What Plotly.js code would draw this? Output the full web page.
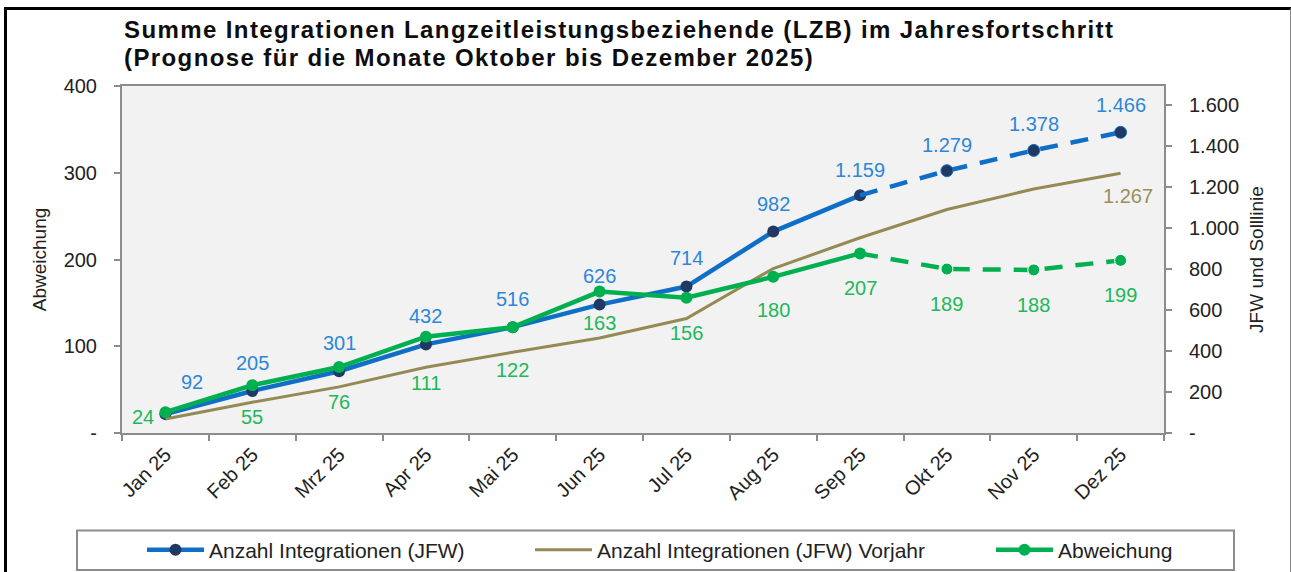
<!DOCTYPE html>
<html><head><meta charset="utf-8">
<script src="https://cdn.plot.ly/plotly-3.0.1.min.js"></script>
<style>
html,body{margin:0;padding:0;background:#fff;}
#wrap{position:relative;width:1291px;height:572px;overflow:hidden;}
#frame{position:absolute;left:4px;top:7px;width:1283px;height:580px;border-top:3px solid #000;border-left:3px solid #000;border-right:1px solid #888;pointer-events:none;}
#chart{position:absolute;left:0;top:0;width:1291px;height:572px;}
</style></head>
<body><div id="wrap"><div id="chart"></div><div id="frame"></div></div>
<script>
const months = ['Jan 25','Feb 25','Mrz 25','Apr 25','Mai 25','Jun 25','Jul 25','Aug 25','Sep 25','Okt 25','Nov 25','Dez 25'];
const jfw = [92,205,301,432,516,626,714,982,1159,1279,1378,1466];
const vorjahr = [68,150,225,321,394,463,558,802,952,1090,1190,1267];
const abweichung = [24,55,76,111,122,163,156,180,207,189,188,199];
const lastActual = 8; // Sep 25, forecast afterwards
const leftTicks = [0,100,200,300,400];
const leftTickText = ['-','100','200','300','400'];
const rightTicks = [0,200,400,600,800,1000,1200,1400,1600];
const rightTickText = ['-','200','400','600','800','1.000','1.200','1.400','1.600'];
const titleLines = ['Summe Integrationen Langzeitleistungsbeziehende (LZB) im Jahresfortschritt','(Prognose für die Monate Oktober bis Dezember 2025)'];

// label placement (pixels), kept apart from the data
const blueLabelDy  = [32,28,28,28,28,29,29,28,25,26,26,27];
const greenLabelDy = [-5,-32,-35,-46,-43,-31,-35,-33,-35,-35,-35,-35];

const FONT = 'Liberation Sans, Arial, sans-serif';
const BLUE = '#0F6FC6', NAVY = '#1F3864', OLIVE = '#948A54', GREEN = '#00B050';
const BLUE_T = '#2E86D8', GREEN_T = '#1DB85A', OLIVE_T = '#9A8F5C';

function fmt(v){ return v >= 1000 ? Math.floor(v/1000) + '.' + String(v%1000).padStart(3,'0') : String(v); }

const actX = months.slice(0, lastActual+1), fcX = months.slice(lastActual);
const DASH = '18px,13px';
const traces = [
  {x: actX, y: jfw.slice(0,lastActual+1), yaxis:'y', name:'Anzahl Integrationen (JFW)', mode:'lines+markers',
   line:{color:BLUE,width:4.5}, marker:{color:NAVY,size:12,opacity:1}, legend:'legend'},
  {x: months, y: vorjahr, yaxis:'y', name:'Anzahl Integrationen (JFW) Vorjahr', mode:'lines',
   line:{color:OLIVE,width:3}, legend:'legend2'},
  {x: actX, y: abweichung.slice(0,lastActual+1), yaxis:'y2', name:'Abweichung', mode:'lines+markers',
   line:{color:GREEN,width:4.5}, marker:{color:GREEN,size:12,opacity:1}, legend:'legend3'},
  {x: fcX, y: jfw.slice(lastActual), yaxis:'y', name:'Anzahl Integrationen (JFW) Prognose', showlegend:false, mode:'lines+markers',
   line:{color:BLUE,width:4.5,dash:DASH}, marker:{color:NAVY,size:[0,12,12,12],opacity:1}},
  {x: fcX, y: abweichung.slice(lastActual), yaxis:'y2', name:'Abweichung Prognose', showlegend:false, mode:'lines+markers',
   line:{color:GREEN,width:4.5,dash:DASH}, marker:{color:GREEN,size:[0,12,12,12],opacity:1}}
];

const annotations = [];
months.forEach((m,i)=>{
  annotations.push({x:m, y:jfw[i], xref:'x', yref:'y', text:fmt(jfw[i]), showarrow:false,
    xshift: i===0 ? 27 : 0, yshift: blueLabelDy[i], font:{family:FONT,size:20,color:BLUE_T}});
  annotations.push({x:m, y:abweichung[i], xref:'x', yref:'y2', text:fmt(abweichung[i]), showarrow:false,
    xshift: i===0 ? -22 : 0, yshift: greenLabelDy[i], font:{family:FONT,size:20,color:GREEN_T}});
});
const L = months.length-1;
annotations.push({x:months[L], y:vorjahr[L], xref:'x', yref:'y', text:fmt(vorjahr[L]), showarrow:false,
  xshift:7, yshift:-23, font:{family:FONT,size:20,color:OLIVE_T}});
// title lines
const PL = 122, PW = 1042, PB = 433, PH = 347;
const px2x = px => (px-PL)/PW, px2y = py => (PB-py)/PH;
titleLines.forEach((t,k)=>{
  annotations.push({xref:'paper', yref:'paper', x:px2x(122), y:px2y(k===0 ? 29.5 : 57), xanchor:'left', yanchor:'middle',
    showarrow:false, text:'<b><span style="letter-spacing:1.4px">'+t+'</span></b>', font:{family:FONT,size:24,color:'#0D0D0D'}});
});

const axisFont = {family:FONT,size:20,color:'#222'};
const legFont = {family:FONT,size:21,color:'#222'};
const legY = px2y(550);
const layout = {
  width:1291, height:572,
  margin:{l:122,r:127,t:86,b:139,autoexpand:false},
  paper_bgcolor:'#fff', plot_bgcolor:'#F2F2F2',
  font:{family:FONT,color:'#222'},
  xaxis:{type:'category', range:[-0.5,11.5], showline:true, linecolor:'#8C8C8C', linewidth:2, mirror:true,
    ticks:'outside', tickson:'boundaries', ticklen:6, tickcolor:'#8C8C8C', tickwidth:2,
    tickangle:-45, tickfont:axisFont, showgrid:false, zeroline:false, fixedrange:true, automargin:false},
  yaxis:{side:'right', range:[0,1692], tickvals:rightTicks, ticktext:rightTickText, showline:true,
    linecolor:'#8C8C8C', linewidth:2, ticks:'outside', ticklen:6, tickcolor:'#8C8C8C', tickwidth:2,
    tickfont:axisFont, showgrid:false, zeroline:false, ticklabelstandoff:13, automargin:false,
    title:{text:'JFW und Solllinie', font:{family:FONT,size:19,color:'#222'}, standoff:12}},
  yaxis2:{side:'left', overlaying:'y', range:[0,400], tickvals:leftTicks, ticktext:leftTickText, showline:true,
    linecolor:'#8C8C8C', linewidth:2, ticks:'outside', ticklen:6, tickcolor:'#8C8C8C', tickwidth:2,
    tickfont:axisFont, showgrid:false, zeroline:false, ticklabelstandoff:13, automargin:false,
    title:{text:'Abweichung', font:{family:FONT,size:19,color:'#222'}, standoff:12}},
  legend:{orientation:'h', x:px2x(142), xanchor:'left', y:legY, yanchor:'middle', font:legFont, itemwidth:57, bgcolor:'rgba(0,0,0,0)'},
  legend2:{orientation:'h', x:px2x(530), xanchor:'left', y:legY, yanchor:'middle', font:legFont, itemwidth:57, bgcolor:'rgba(0,0,0,0)'},
  legend3:{orientation:'h', x:px2x(991), xanchor:'left', y:legY, yanchor:'middle', font:legFont, itemwidth:57, bgcolor:'rgba(0,0,0,0)'},
  shapes:[{type:'rect', xref:'paper', yref:'paper', x0:px2x(77), x1:px2x(1234), y0:px2y(570), y1:px2y(530.5),
    line:{color:'#8C8C8C',width:2}, fillcolor:'rgba(0,0,0,0)'}],
  annotations: annotations,
  showlegend:true
};
Plotly.newPlot('chart', traces, layout, {displayModeBar:false, staticPlot:true});
</script></body></html>
